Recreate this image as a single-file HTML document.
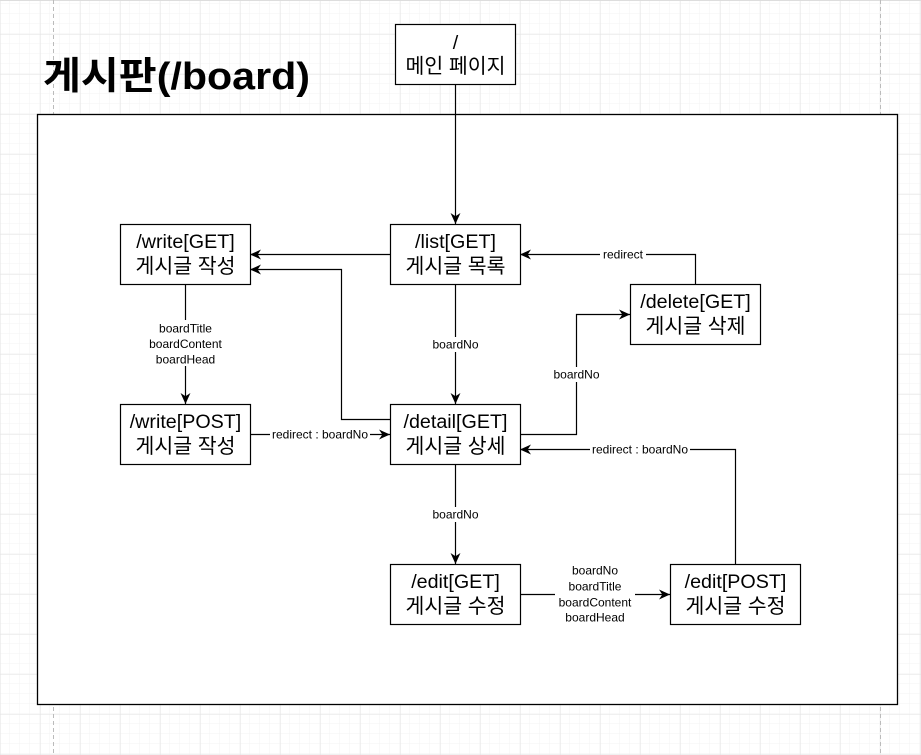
<!DOCTYPE html>
<html><head><meta charset="utf-8"><style>
html,body{margin:0;padding:0;background:#fff;}
svg{display:block;}
text{font-family:"Liberation Sans","Noto Sans CJK KR",sans-serif;}
</style></head><body>
<svg width="921" height="755" viewBox="0 0 921 755" xmlns="http://www.w3.org/2000/svg">
<defs>
<pattern id="minor" x="0" y="4" width="10" height="10" patternUnits="userSpaceOnUse">
<path d="M10 0V10M0 10H10" stroke="#f3f3f3" stroke-width="1" fill="none"/>
</pattern>
<pattern id="major" x="0.5" y="34.5" width="40" height="40" patternUnits="userSpaceOnUse">
<path d="M0 0V40M0 0H40" stroke="#e2e2e2" stroke-width="1" fill="none"/>
</pattern>
<marker id="a" viewBox="0 0 10 10" refX="10" refY="5" markerWidth="11" markerHeight="11" orient="auto" markerUnits="userSpaceOnUse">
<path d="M0 0.5L10 5L0 9.5L3 5Z" fill="#000"/>
</marker>
</defs>
<rect width="921" height="755" fill="url(#minor)"/>
<rect width="921" height="755" fill="url(#major)"/>
<line x1="0" y1="0.5" x2="921" y2="0.5" stroke="#ddd"/>
<line x1="53.5" y1="0" x2="53.5" y2="755" stroke="#bbb" stroke-dasharray="4 3"/>
<line x1="880.5" y1="0" x2="880.5" y2="755" stroke="#bbb" stroke-dasharray="4 3"/>

<text x="43" y="89" font-size="38" font-weight="bold" textLength="267" lengthAdjust="spacingAndGlyphs">게시판(/board)</text>
<rect x="37.5" y="114.5" width="860" height="590" fill="#fff" stroke="#000" stroke-width="1.3"/>

<g fill="none" stroke="#000" stroke-width="1.2">
<path d="M455.5 84V224" marker-end="url(#a)"/>
<path d="M390 254.5H250" marker-end="url(#a)"/>
<path d="M390 419.5H341.5V269.5H250" marker-end="url(#a)"/>
<path d="M455.5 284V404" marker-end="url(#a)"/>
<path d="M185.5 284V404" marker-end="url(#a)"/>
<path d="M250 434.5H390" marker-end="url(#a)"/>
<path d="M520 434.5H576.5V314.5H630" marker-end="url(#a)"/>
<path d="M695.5 284V254.5H520" marker-end="url(#a)"/>
<path d="M455.5 464V564" marker-end="url(#a)"/>
<path d="M520 594.5H670" marker-end="url(#a)"/>
<path d="M735.5 564V449.5H520" marker-end="url(#a)"/>
</g>

<g fill="#fff" stroke="#000" stroke-width="1.2">
<rect x="395.5" y="24.5" width="120" height="60"/>
<rect x="390.5" y="224.5" width="130" height="60"/>
<rect x="120.5" y="224.5" width="130" height="60"/>
<rect x="630.5" y="284.5" width="130" height="60"/>
<rect x="120.5" y="404.5" width="130" height="60"/>
<rect x="390.5" y="404.5" width="130" height="60"/>
<rect x="390.5" y="564.5" width="130" height="60"/>
<rect x="670.5" y="564.5" width="130" height="60"/>
</g>

<g font-size="19.7" text-anchor="middle" fill="#000">
<text x="455.5" y="49">/</text>
<text x="455.5" y="248">/list[GET]</text>
<text x="185.5" y="248">/write[GET]</text>
<text x="695.5" y="308">/delete[GET]</text>
<text x="185.5" y="428">/write[POST]</text>
<text x="455.5" y="428">/detail[GET]</text>
<text x="455.5" y="588">/edit[GET]</text>
<text x="735.5" y="588">/edit[POST]</text>
</g>
<g font-size="20.5" text-anchor="middle" fill="#000">
<text x="455.5" y="73">메인 페이지</text>
<text x="455.5" y="273">게시글 목록</text>
<text x="185.5" y="273">게시글 작성</text>
<text x="695.5" y="333">게시글 삭제</text>
<text x="185.5" y="453">게시글 작성</text>
<text x="455.5" y="453">게시글 상세</text>
<text x="455.5" y="613">게시글 수정</text>
<text x="735.5" y="613">게시글 수정</text>
</g>

<g font-size="12" text-anchor="middle" fill="#000">
<rect x="426" y="337" width="59" height="15" fill="#fff"/>
<text x="455.5" y="348.5">boardNo</text>
<rect x="146" y="320" width="80" height="46" fill="#fff"/>
<text x="185.5" y="332.5">boardTitle</text>
<text x="185.5" y="348">boardContent</text>
<text x="185.5" y="363.5">boardHead</text>
<rect x="270" y="427" width="100" height="15" fill="#fff"/>
<text x="320" y="438.5" textLength="96" lengthAdjust="spacingAndGlyphs">redirect : boardNo</text>
<rect x="548" y="367" width="58" height="15" fill="#fff"/>
<text x="576.5" y="378.5">boardNo</text>
<rect x="600" y="247" width="46" height="15" fill="#fff"/>
<text x="623" y="258.5">redirect</text>
<rect x="426" y="507" width="59" height="15" fill="#fff"/>
<text x="455.5" y="518.5">boardNo</text>
<rect x="555" y="563" width="80" height="62" fill="#fff"/>
<text x="595" y="574.5">boardNo</text>
<text x="595" y="590.5">boardTitle</text>
<text x="595" y="606.5">boardContent</text>
<text x="595" y="621.5">boardHead</text>
<rect x="590" y="442" width="100" height="15" fill="#fff"/>
<text x="640" y="453.5" textLength="96" lengthAdjust="spacingAndGlyphs">redirect : boardNo</text>
</g>
</svg>
</body></html>
